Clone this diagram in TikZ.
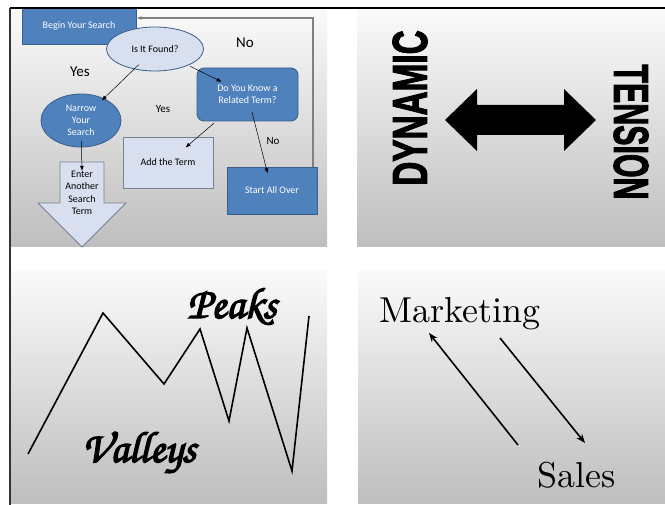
\documentclass[tikz,border=0pt]{standalone}
\usepackage{fontspec}
\usepackage{graphicx}
\usetikzlibrary{arrows.meta,calc,shapes.geometric}
\newfontfamily\flowfont{Carlito}
\newfontfamily\posterfont[FakeBold=2.5]{Liberation Sans Bold}
\newfontfamily\handfont[FakeBold=3]{texgyrechorus-mediumitalic.otf}
\newfontfamily\modernfont{lmroman10-regular.otf}
\definecolor{BoxBlue}{RGB}{79,129,189}
\definecolor{BoxEdge}{RGB}{56,93,138}
\definecolor{PaleBlue}{RGB}{216,223,238}
\definecolor{PaleEdge}{RGB}{120,128,145}
\definecolor{LoopGray}{RGB}{128,128,128}
\definecolor{PanelTop}{RGB}{250,250,250}
\definecolor{PanelBot}{RGB}{190,190,190}

\begin{document}
\begin{tikzpicture}[x=1pt,y=-1pt,
  panel/.style={top color=PanelTop,bottom color=PanelBot},
  boxtext/.style={font=\flowfont\fontsize{10}{12}\selectfont,align=center,inner sep=0pt},
  bluebox/.style={boxtext,draw=BoxEdge,fill=BoxBlue,text=white,line width=0.8pt},
  palebox/.style={boxtext,draw=PaleEdge,fill=PaleBlue,text=black,line width=0.8pt},
  flow/.style={-{Latex[length=5pt,width=4pt]},line width=0.5pt},
  bigtag/.style={font=\flowfont\fontsize{15}{18}\selectfont},
  smalltag/.style={font=\flowfont\fontsize{11}{13}\selectfont},
  poster/.style={font=\posterfont\fontsize{49}{49}\selectfont,inner sep=0pt},
  hand/.style={font=\handfont\fontsize{44}{44}\selectfont,inner sep=0pt,anchor=base},
  serif/.style={font=\modernfont\fontsize{36}{40}\selectfont,inner sep=0pt,anchor=base},
  pointer/.style={-{Stealth[length=9pt,width=7pt]},line width=1.6pt}]
\useasboundingbox (0,0) rectangle (665,505);

% four panels
\shade[panel] (11,9) rectangle (327,247);
\shade[panel] (357,9) rectangle (665,247);
\shade[panel] (11,271) rectangle (327,503);
\shade[panel] (358,271) rectangle (665,503);

% search flow chart
\node[bluebox,minimum width=114pt,minimum height=36pt] (begin) at (79,26) {Begin Your Search};
\node[palebox,draw=BoxEdge,ellipse,minimum width=97pt,minimum height=44pt] (found) at (155,49) {Is It Found?};
\node[bluebox,rounded corners=7pt,minimum width=101pt,minimum height=53pt] (related) at (247.5,94.5) {Do You Know a\\Related Term?};
\node[bluebox,ellipse,minimum width=80pt,minimum height=53pt] (narrow) at (81,120.5) {Narrow\\Your\\Search};
\node[palebox,minimum width=90pt,minimum height=51pt] (addterm) at (168,162.5) {Add the Term};
\node[bluebox,minimum width=90pt,minimum height=47pt] (startover) at (272,190.5) {Start All Over};

\filldraw[fill=PaleBlue,draw=PaleEdge,line width=0.8pt]
  (60,162) -- (104,162) -- (104,203) -- (126,203) -- (82,247) -- (38,203) -- (60,203) -- cycle;
\node[boxtext,font=\flowfont\fontsize{10}{12.5}\selectfont] (enter) at (82,193) {Enter\\Another\\Search\\Term};

\node[bigtag] (nofound) at (245,43) {No};
\node[bigtag] (yesleft) at (80,72) {Yes};
\node[smalltag] (yesterm) at (163,109) {Yes};
\node[smalltag] (noover) at (273,141) {No};

\draw[flow] ($(found)!0.22!(narrow)$) -- ($(found)!0.72!(narrow)$);
\draw[flow] ($(found)!0.38!(related)$) -- ($(found)!0.72!(related)$);
\draw[flow] ($(related)!0.42!(addterm)$) -- ($(related)!0.78!(addterm)$);
\draw[flow] ($(related)!0.18!(startover)$) -- ($(related)!0.82!(startover)$);
\draw[flow] ($(narrow)!0.28!(enter)$) -- (enter.north);

\coordinate (back) at (313,18);
\draw[-{Latex[length=5pt,width=4pt]},LoopGray,line width=1.8pt]
  (startover.north -| back) |- (begin.east |- back);

% dynamic tension
\node[poster,rotate=90] (dynamic) at (410,108) {\scalebox{0.68}[1]{DYNAMIC}};
\node[poster,rotate=-90] (tension) at (631,132) {\scalebox{0.62}[1]{TENSION}};
\fill (445,120) -- (477,89) -- (477,105) -- (564,105) -- (564,89) -- (596,120)
  -- (564,151) -- (564,135) -- (477,135) -- (477,151) -- cycle;

% peaks and valleys
\draw[line width=1.6pt,line join=miter] (28,454) -- (103,313) -- (164,384) -- (200,329)
  -- (229,421) -- (247,328) -- (292,471) -- (309,316);
\node[hand] (peaks) at (232,318) {Peaks};
\node[hand] (valleys) at (139,462) {Valleys};

% marketing and sales
\node[serif] (marketing) at (460,323) {Marketing};
\node[serif] (sales) at (576.5,487) {Sales};
\coordinate (upfrom) at (518,445);
\coordinate (upto) at (429,333);
\coordinate (downfrom) at (500,338);
\coordinate (downto) at (585,443);
\draw[pointer] (upfrom) -- (upto);
\draw[pointer] (downfrom) -- (downto);

\draw[line width=1.5pt] (10,8) -- (665,8);
\draw[line width=1.5pt,black!80] (10,8) -- (10,505);
\end{tikzpicture}
\end{document}
